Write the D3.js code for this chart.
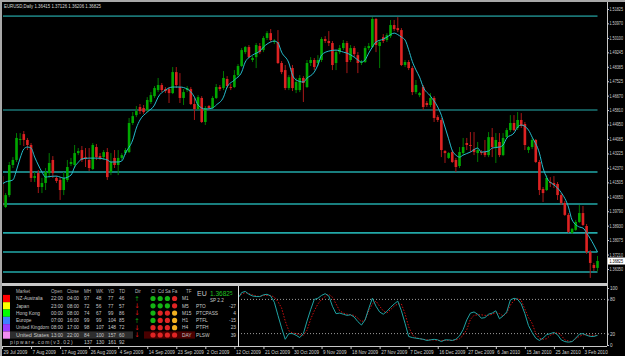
<!DOCTYPE html>
<html>
<head>
<meta charset="utf-8">
<script src="https://cdn.jsdelivr.net/npm/d3@7"></script>
<style>
body { margin: 0; background: #000; }
svg { display: block; font-family: "Liberation Sans", Arial, sans-serif; }
</style>
</head>
<body>
<div id="chart"></div>
<script>
/**
 * Chart values
 */
var title = "EURUSD,Daily  1.36415 1.37126 1.36206 1.36825";

// daily bars, [open, high, low, close], first bar is 29 Jul 2009
var ohlc = [
 [1.4188,1.4200,1.3998,1.4010],[1.4004,1.4087,1.3998,1.4075],[1.4075,1.4272,1.4063,1.4254],[1.4254,1.4301,1.4236,1.4284],
 [1.4284,1.4444,1.4272,1.4415],[1.4403,1.4444,1.4373,1.4409],[1.4438,1.4456,1.4367,1.4403],[1.4403,1.4415,1.4343,1.4373],
 [1.4373,1.4385,1.4153,1.4177],[1.4177,1.4212,1.4153,1.4188],[1.4206,1.4224,1.4087,1.4123],[1.4123,1.4177,1.4087,1.4147],
 [1.4147,1.4236,1.4105,1.4212],[1.4206,1.4325,1.4177,1.4266],[1.4284,1.4307,1.4177,1.4206],[1.4177,1.4188,1.4147,1.4159],
 [1.4165,1.4182,1.4046,1.4105],[1.4105,1.4212,1.4075,1.4177],[1.4165,1.4284,1.4153,1.4242],[1.4260,1.4296,1.4248,1.4272],
 [1.4254,1.4373,1.4236,1.4325],[1.4325,1.4355,1.4313,1.4337],[1.4343,1.4367,1.4272,1.4284],[1.4301,1.4355,1.4242,1.4290],
 [1.4284,1.4355,1.4218,1.4236],[1.4230,1.4385,1.4224,1.4373],[1.4361,1.4379,1.4284,1.4301],[1.4307,1.4325,1.4284,1.4296],
 [1.4301,1.4343,1.4284,1.4331],[1.4331,1.4355,1.4165,1.4182],[1.4212,1.4325,1.4194,1.4272],[1.4296,1.4343,1.4236,1.4254],
 [1.4254,1.4343,1.4194,1.4296],[1.4296,1.4325,1.4284,1.4313],[1.4325,1.4355,1.4313,1.4343],[1.4331,1.4534,1.4325,1.4504],
 [1.4504,1.4569,1.4492,1.4545],[1.4551,1.4605,1.4539,1.4575],[1.4599,1.4617,1.4557,1.4575],[1.4593,1.4611,1.4557,1.4569],
 [1.4581,1.4658,1.4569,1.4641],[1.4629,1.4688,1.4617,1.4670],[1.4664,1.4724,1.4653,1.4712],[1.4700,1.4772,1.4688,1.4730],
 [1.4730,1.4742,1.4688,1.4700],[1.4706,1.4718,1.4682,1.4694],[1.4706,1.4718,1.4623,1.4682],[1.4682,1.4837,1.4676,1.4807],
 [1.4807,1.4837,1.4712,1.4730],[1.4718,1.4801,1.4623,1.4653],[1.4653,1.4706,1.4611,1.4688],[1.4700,1.4724,1.4688,1.4712],
 [1.4706,1.4718,1.4611,1.4617],[1.4617,1.4653,1.4522,1.4587],[1.4587,1.4670,1.4581,1.4658],[1.4653,1.4664,1.4504,1.4510],
 [1.4510,1.4605,1.4492,1.4593],[1.4605,1.4611,1.4581,1.4593],[1.4593,1.4664,1.4587,1.4653],[1.4653,1.4736,1.4647,1.4718],
 [1.4718,1.4730,1.4694,1.4706],[1.4712,1.4813,1.4700,1.4772],[1.4766,1.4783,1.4712,1.4724],[1.4718,1.4736,1.4700,1.4712],
 [1.4718,1.4819,1.4712,1.4789],[1.4789,1.4855,1.4777,1.4843],[1.4843,1.4950,1.4837,1.4938],[1.4926,1.4962,1.4914,1.4956],
 [1.4956,1.4968,1.4891,1.4896],[1.4879,1.4902,1.4867,1.4891],[1.4896,1.4980,1.4831,1.4968],[1.4962,1.4980,1.4914,1.4926],
 [1.4938,1.5021,1.4926,1.5010],[1.5010,1.5051,1.4998,1.5039],[1.5039,1.5063,1.4986,1.4998],[1.4986,1.5004,1.4974,1.4992],
 [1.4986,1.5057,1.4855,1.4861],[1.4861,1.4873,1.4795,1.4807],[1.4819,1.4849,1.4700,1.4712],[1.4712,1.4789,1.4700,1.4777],
 [1.4831,1.4849,1.4694,1.4712],[1.4700,1.4772,1.4682,1.4748],[1.4700,1.4789,1.4688,1.4772],[1.4772,1.4783,1.4629,1.4742],
 [1.4718,1.4879,1.4712,1.4861],[1.4861,1.4896,1.4843,1.4879],[1.4879,1.4891,1.4819,1.4837],[1.4861,1.4908,1.4843,1.4879],
 [1.4879,1.5015,1.4867,1.5004],[1.5004,1.5021,1.4980,1.4992],[1.4992,1.5051,1.4962,1.4980],[1.4980,1.4992,1.4819,1.4849],
 [1.4861,1.4938,1.4819,1.4926],[1.4926,1.4968,1.4914,1.4950],[1.4950,1.4998,1.4938,1.4980],[1.4980,1.4992,1.4801,1.4867],
 [1.4879,1.4968,1.4867,1.4950],[1.4950,1.4962,1.4896,1.4914],[1.4908,1.4926,1.4801,1.4861],[1.4861,1.4879,1.4849,1.4867],
 [1.4867,1.4962,1.4861,1.4950],[1.4950,1.4980,1.4938,1.4962],[1.4956,1.5134,1.4950,1.5123],[1.5123,1.5129,1.4926,1.4968],
 [1.4962,1.4998,1.4831,1.4986],[1.5015,1.5033,1.4980,1.4992],[1.4998,1.5039,1.4986,1.5027],[1.5021,1.5117,1.5010,1.5087],
 [1.5087,1.5117,1.5051,1.5063],[1.5069,1.5134,1.5045,1.5057],[1.5057,1.5069,1.4843,1.4849],[1.4849,1.4879,1.4837,1.4867],
 [1.4867,1.4879,1.4819,1.4831],[1.4831,1.4843,1.4670,1.4688],[1.4688,1.4760,1.4676,1.4730],[1.4670,1.4688,1.4658,1.4682],
 [1.4718,1.4730,1.4581,1.4599],[1.4623,1.4635,1.4599,1.4611],[1.4611,1.4682,1.4599,1.4653],[1.4653,1.4664,1.4510,1.4534],
 [1.4539,1.4551,1.4510,1.4522],[1.4522,1.4534,1.4301,1.4343],[1.4337,1.4343,1.4266,1.4325],[1.4296,1.4331,1.4290,1.4325],
 [1.4331,1.4343,1.4266,1.4272],[1.4284,1.4296,1.4212,1.4242],[1.4248,1.4361,1.4236,1.4331],[1.4325,1.4415,1.4313,1.4361],
 [1.4385,1.4415,1.4343,1.4373],[1.4373,1.4450,1.4331,1.4367],[1.4349,1.4450,1.4313,1.4331],[1.4325,1.4391,1.4272,1.4343],
 [1.4331,1.4343,1.4313,1.4325],[1.4331,1.4403,1.4301,1.4313],[1.4313,1.4450,1.4301,1.4420],[1.4420,1.4474,1.4301,1.4361],
 [1.4361,1.4444,1.4266,1.4403],[1.4391,1.4444,1.4301,1.4313],[1.4313,1.4444,1.4307,1.4415],[1.4420,1.4474,1.4409,1.4462],
 [1.4462,1.4551,1.4450,1.4504],[1.4504,1.4551,1.4456,1.4462],[1.4474,1.4569,1.4462,1.4522],[1.4522,1.4563,1.4474,1.4486],
 [1.4498,1.4510,1.4343,1.4373],[1.4343,1.4367,1.4325,1.4361],[1.4361,1.4415,1.4349,1.4403],[1.4403,1.4409,1.4266,1.4272],
 [1.4272,1.4284,1.4075,1.4105],[1.4111,1.4123,1.4034,1.4087],[1.4105,1.4194,1.4099,1.4177],[1.4153,1.4182,1.4123,1.4147],
 [1.4147,1.4188,1.4117,1.4135],[1.4141,1.4153,1.4046,1.4075],[1.4075,1.4087,1.4016,1.4028],[1.4028,1.4040,1.3951,1.3957],
 [1.3957,1.3968,1.3850,1.3856],[1.3850,1.3879,1.3844,1.3874],[1.3868,1.3927,1.3862,1.3915],[1.3915,1.4016,1.3909,1.3968],
 [1.3968,1.4010,1.3891,1.3897],[1.3891,1.3903,1.3725,1.3736],[1.3736,1.3748,1.3582,1.3671],[1.3659,1.3671,1.3623,1.3641],
 [1.36415,1.37126,1.36206,1.36825]
];

// cyan moving average, read at these bars
var maBars = [0,1,3,4,5,6,7,8,9,10,11,12,13,15,16,17,19,20,21,22,24,26,28,29,30,32,33,34,36,37,38,40,42,43,45,47,49,51,53,54,56,58,59,61,62,64,66,67,69,71,72,74,75,76,77,79,80,81,83,84,86,87,88,90,92,94,95,97,98,99,100,101,102,103,105,106,108,109,110,111,112,113,114,115,116,118,120,121,122,123,124,125,126,127,129,131,132,134,135,137,138,139,141,142,143,145,146,148,149,150,152,153,154,156,157,159,160,161,163,164];
var maValues = [1.4141,1.4153,1.4165,1.4224,1.4295,1.4349,1.4361,1.4355,1.4301,1.4254,1.4212,1.4182,1.4185,1.4188,1.4182,1.4176,1.4194,1.4242,1.4270,1.4290,1.4295,1.4295,1.4290,1.4284,1.4272,1.4272,1.4278,1.4325,1.4403,1.4474,1.4522,1.4569,1.4611,1.4658,1.4700,1.4718,1.4718,1.4706,1.4658,1.4611,1.4587,1.4593,1.4611,1.4658,1.4718,1.4760,1.4807,1.4867,1.4908,1.4932,1.4956,1.4986,1.4992,1.4980,1.4926,1.4861,1.4789,1.4760,1.4748,1.4771,1.4807,1.4849,1.4908,1.4932,1.4938,1.4926,1.4920,1.4896,1.4879,1.4867,1.4880,1.4920,1.4956,1.4986,1.5003,1.5015,1.5039,1.5030,1.5015,1.4998,1.4940,1.4870,1.4820,1.4777,1.4718,1.4664,1.4599,1.4550,1.4480,1.4410,1.4340,1.4313,1.4301,1.4313,1.4331,1.4355,1.4331,1.4337,1.4355,1.4361,1.4373,1.4414,1.4444,1.4480,1.4492,1.4462,1.4420,1.4325,1.4236,1.4180,1.4135,1.4117,1.4090,1.4004,1.3927,1.3885,1.3879,1.3850,1.3778,1.3736];

// horizontal levels drawn on the chart
var levelPrices = [1.5140, 1.4581, 1.4212, 1.4022, 1.3850, 1.3736, 1.3617];

// right axis labels
var priceTickLabels = ["1.51825","1.50970","1.50100","1.49245","1.48385","1.47525","1.46670","1.45810","1.44950","1.44085","1.43225","1.42370","1.41505","1.40650","1.39790","1.38930","1.38075","1.37210","1.36350"];
var lastPrice = "1.36825";

// bottom axis, one label every 8 bars
var dateLabels = ["29 Jul 2009","7 Aug 2009","17 Aug 2009","26 Aug 2009","4 Sep 2009","14 Sep 2009","23 Sep 2009","2 Oct 2009","12 Oct 2009","21 Oct 2009","30 Oct 2009","9 Nov 2009","18 Nov 2009","27 Nov 2009","7 Dec 2009","16 Dec 2009","27 Dec 2009","6 Jan 2010","15 Jan 2010","25 Jan 2010","3 Feb 2010"];

// oscillator window, bars 65..164
var oscStart = 65;
var oscMain = [82,92,94,89,86,85,85,88,89,86,75,52,30,10,20,20,17,13,20,42,62,80,82,87,90,86,68,55,56,54,52,53,49,41,35,44,64,82,68,58,54,59,66,72,77,60,38,15,13,12,11,10,8,9,10,9,6,9,9,8,10,16,27,44,56,58,54,47,48,54,56,60,46,51,58,79,82,80,72,55,34,22,12,8,12,18,20,22,18,9,6,5,6,12,19,20,17,15,15,17];
var oscSignal = [85,89,92,90,88,86,85,87,87,87,84,76,65,42,25,21,20,18,17,26,45,60,72,80,85,89,84,72,60,56,54,53,52,47,41,44,60,72,77,68,60,56,62,68,72,72,55,32,18,13,11,10,9,9,9,8,8,8,8,8,9,11,17,27,45,52,53,53,52,52,54,57,55,51,56,70,78,82,78,63,48,38,20,12,10,11,17,20,22,17,9,7,6,11,15,18,18,17,17,17];
var oscLevels = [80, 20];
var oscTickLabels = ["100","80","20","0"];

// session table
var markets = ["NZ-Australia","Japan","Hong Kong","Europe","United Kingdom","United States"];
var marketColors = ["#ff0000","#ffff00","#00ff00","#3f7fff","#9a3cff","#f08cf0"];
var opens = ["22:00","23:00","00:00","07:00","08:00","13:00"];
var closes = ["04:00","08:00","08:00","16:00","17:00","22:00"];
var mh = [97,72,74,99,98,84];
var wk = [48,56,67,99,107,100];
var yd = [77,77,99,104,148,157];
var td = [46,57,86,85,72,60];
var totals = [137,130,161,92];
var dirs = ["up","down","down","up","down","down"];
var dots = [["g","g","g","r"],["g","g","g","r"],["g","r","r","o"],["g","r","r","o"],["r","r","r","o"],["r","r","r","r"]];
var timeframes = ["M1","M5","M15","H1","H4","DAY"];
var stats = [["PTO","-27"],["PTCPASS","4"],["PTFL","-15"],["PTFH","23"],["PLSW","39"]];

/**
 * Layout
 */
var W = 625, H = 356;
var plotRight = 607;

var svg = d3.select("#chart").append("svg")
	.attr("width", W)
	.attr("height", H);

svg.append("rect").attr("width", W).attr("height", H).attr("fill", "#000");

var x = d3.scaleLinear().domain([0, ohlc.length - 1]).range([2, 597.5]);
var y = d3.scaleLinear().domain([1.3635, 1.51825]).range([269, 9]);
var yOsc = d3.scaleLinear().domain([0, 100]).range([345, 288]);

// clip for main window
svg.append("clipPath").attr("id", "mainClip")
	.append("rect").attr("x", 3).attr("y", 3).attr("width", plotRight - 3).attr("height", 280);

var main = svg.append("g").attr("clip-path", "url(#mainClip)");

// horizontal levels
main.selectAll("line.level").data(levelPrices).enter().append("line")
	.attr("class", "level")
	.attr("x1", x(0)).attr("x2", x(ohlc.length - 1))
	.attr("y1", function(d) { return y(d); })
	.attr("y2", function(d) { return y(d); })
	.attr("stroke", function(d, i) { return i < 2 ? "#1a7474" : "#22a8a8"; })
	.attr("stroke-width", 1.6);

// candles
var bars = main.selectAll("g.bar").data(ohlc).enter().append("g").attr("class", "bar");
bars.append("line")
	.attr("x1", function(d, i) { return x(i); })
	.attr("x2", function(d, i) { return x(i); })
	.attr("y1", function(d) { return y(d[1]); })
	.attr("y2", function(d) { return y(d[2]); })
	.attr("stroke", function(d) { return d[3] >= d[0] ? "#007a00" : "#a81818"; })
	.attr("stroke-width", 1);
bars.append("rect")
	.attr("x", function(d, i) { return x(i) - 1.3; })
	.attr("width", 2.6)
	.attr("y", function(d) { return y(Math.max(d[0], d[3])); })
	.attr("height", function(d) { return Math.max(1, Math.abs(y(d[0]) - y(d[3]))); })
	.attr("fill", function(d) { return d[3] >= d[0] ? "#00a800" : "#dd2222"; });

// moving average
var maLine = d3.line()
	.curve(d3.curveMonotoneX)
	.x(function(d) { return x(d[0]); })
	.y(function(d) { return y(d[1]); });
main.append("path")
	.datum(maBars.map(function(b, i) { return [b, maValues[i]]; }))
	.attr("d", maLine)
	.attr("fill", "none")
	.attr("stroke", "#25bccc")
	.attr("stroke-width", 1);

// title
svg.append("text")
	.attr("x", 4).attr("y", 8)
	.attr("font-size", 5).attr("fill", "#d8d8d8")
	.attr("textLength", 97).attr("lengthAdjust", "spacingAndGlyphs")
	.text(title);

// frame
svg.append("rect").attr("x", 0).attr("y", 0).attr("width", W).attr("height", 2).attr("fill", "#a8a8a8");
svg.append("rect").attr("x", 0).attr("y", 0).attr("width", 2).attr("height", H).attr("fill", "#a8a8a8");
svg.append("rect").attr("x", 2).attr("y", 283).attr("width", plotRight - 2).attr("height", 3).attr("fill", "#c8c8c8");

// right price axis
var priceAxis = d3.axisRight(y)
	.tickValues(priceTickLabels.map(Number))
	.tickFormat(function(d, i) { return priceTickLabels[i]; })
	.tickSize(2).tickPadding(0.5);
var pa = svg.append("g").attr("transform", "translate(" + plotRight + ",0)").call(priceAxis);
pa.select(".domain").remove();
pa.selectAll("line").attr("stroke", "#c8c8c8");
pa.selectAll("text").attr("fill", "#d0d0d0").attr("font-size", 4.6)
	.attr("textLength", 13.5).attr("lengthAdjust", "spacingAndGlyphs");
svg.append("line").attr("x1", plotRight + 0.5).attr("x2", plotRight + 0.5).attr("y1", 2).attr("y2", 346)
	.attr("stroke", "#c8c8c8");

// last price box
var lp = svg.append("g").attr("transform", "translate(" + (plotRight + 1) + "," + y(+lastPrice) + ")");
lp.append("rect").attr("x", 0).attr("y", -3.5).attr("width", 17).attr("height", 7).attr("fill", "#ffffff");
lp.append("text").attr("x", 1.5).attr("y", 1.8).attr("font-size", 4.6).attr("fill", "#000")
	.attr("textLength", 13.5).attr("lengthAdjust", "spacingAndGlyphs").text(lastPrice);

/**
 * Oscillator window
 */
var osc = svg.append("g");
osc.selectAll("line.olevel").data(oscLevels).enter().append("line")
	.attr("x1", 238).attr("x2", plotRight)
	.attr("y1", function(d) { return yOsc(d); })
	.attr("y2", function(d) { return yOsc(d); })
	.attr("stroke", "#9a9a9a").attr("stroke-dasharray", "1,2");

var oscLine = d3.line()
	.x(function(d, i) { return x(oscStart + i); })
	.y(function(d) { return yOsc(d); });
osc.append("path").datum(oscSignal).attr("d", oscLine)
	.attr("fill", "none").attr("stroke", "#d01010").attr("stroke-dasharray", "1.5,1.5");
osc.append("path").datum(oscMain).attr("d", oscLine)
	.attr("fill", "none").attr("stroke", "#1fa3a3").attr("stroke-width", 1);

var oa = svg.append("g").attr("transform", "translate(" + plotRight + ",0)")
	.call(d3.axisRight(yOsc).tickValues(oscTickLabels.map(Number)).tickSize(2).tickPadding(1));
oa.select(".domain").remove();
oa.selectAll("line").attr("stroke", "#c8c8c8");
oa.selectAll("text").attr("fill", "#d0d0d0").attr("font-size", 4.6);

/**
 * Date axis
 */
var dateIdx = dateLabels.map(function(d, i) { return i * 8; });
var da = svg.append("g").attr("transform", "translate(0,346)")
	.call(d3.axisBottom(x).tickValues(dateIdx)
		.tickFormat(function(d, i) { return dateLabels[i]; })
		.tickSize(3).tickPadding(1.5));
da.select(".domain").attr("stroke", "#c8c8c8").attr("d", "M2,0.5H" + plotRight);
da.selectAll("line").attr("stroke", "#c8c8c8");
da.selectAll("text").attr("fill", "#d0d0d0").attr("font-size", 4.6)
	.attr("text-anchor", "start").attr("dx", 1);

/**
 * Session table box
 */
var tb = svg.append("g");
tb.append("rect").attr("x", 2).attr("y", 286).attr("width", 236).attr("height", 60).attr("fill", "#000");
tb.append("line").attr("x1", 238.5).attr("x2", 238.5).attr("y1", 286).attr("y2", 347).attr("stroke", "#e0e0e0");

var rowY = d3.scaleLinear().domain([0, 1]).range([298.5, 305.8]);
var colX = { market: 16, open: 51, close: 67, mh: 84, wk: 96, yd: 108, td: 119, dir: 137, dot: 153, tf: 182 };

// highlighted rows
tb.append("rect").attr("x", 10).attr("y", rowY(5) - 3.6).attr("width", 123).attr("height", 7.2).attr("fill", "#2e2e2e");
tb.append("rect").attr("x", 144).attr("y", rowY(5) - 3.6).attr("width", 51).attr("height", 7.2).attr("fill", "#4a0000");

var headers = [["Market", colX.market],["Open", colX.open],["Close", colX.close],["MH", colX.mh],["WK", colX.wk],["YD", colX.yd],["TD", colX.td],["Dir", colX.dir - 2],["Cl", 151],["Cd", 158],["Sa", 165],["Fa", 172],["TF", colX.tf + 4]];
tb.selectAll("text.hdr").data(headers).enter().append("text")
	.attr("x", function(d) { return d[1]; }).attr("y", 292.5)
	.attr("font-size", 4.6).attr("fill", "#b8b8b8")
	.text(function(d) { return d[0]; });

tb.selectAll("rect.sw").data(marketColors).enter().append("rect")
	.attr("x", 3).attr("width", 7)
	.attr("y", function(d, i) { return rowY(i) - 3.6; })
	.attr("height", 7.3)
	.attr("fill", function(d) { return d; });

var rows = tb.selectAll("g.row").data(markets).enter().append("g")
	.attr("transform", function(d, i) { return "translate(0," + rowY(i) + ")"; });
function cell(sel, xPos, fn, color) {
	sel.append("text").attr("x", xPos).attr("y", 1.7)
		.attr("font-size", 4.8).attr("fill", color)
		.text(fn);
}
cell(rows, colX.market, function(d) { return d; }, "#c8c8c8");
rows.select("text").attr("textLength", function(d) { return d.length > 12 ? 33 : null; })
	.attr("lengthAdjust", "spacingAndGlyphs");
cell(rows, colX.open, function(d, i) { return opens[i]; }, "#c8c8c8");
cell(rows, colX.close, function(d, i) { return closes[i]; }, "#c8c8c8");
cell(rows, colX.mh, function(d, i) { return mh[i]; }, "#c8c8c8");
cell(rows, colX.wk, function(d, i) { return wk[i]; }, "#c8c8c8");
cell(rows, colX.yd, function(d, i) { return yd[i]; }, "#c8c8c8");
cell(rows, colX.td, function(d, i) { return td[i]; }, "#c8c8c8");
rows.append("text").attr("x", colX.dir).attr("y", 2.2)
	.attr("font-family", "DejaVu Sans").attr("font-size", 6.5).attr("text-anchor", "middle")
	.attr("fill", function(d, i) { return dirs[i] == "up" ? "#12a012" : "#e01818"; })
	.text(function(d, i) { return dirs[i] == "up" ? "\u2191" : "\u2193"; });
rows.each(function(d, i) {
	d3.select(this).selectAll("circle").data(dots[i]).enter().append("circle")
		.attr("cx", function(c, j) { return colX.dot + j * 7.2; })
		.attr("cy", 0).attr("r", 2.6)
		.attr("fill", function(c) { return c == "g" ? "#14b414" : (c == "r" ? "#e02424" : "#f0b020"); });
});
cell(rows, colX.tf, function(d, i) { return timeframes[i]; }, "#c8c8c8");

tb.append("text").attr("x", 10).attr("y", 343.5).attr("font-size", 5).attr("fill", "#bdbdbd")
	.attr("letter-spacing", 1.1).text("pipware.com(v3.02)");
tb.selectAll("text.tot").data(totals).enter().append("text")
	.attr("x", function(d, i) { return [colX.mh, colX.wk, colX.yd, colX.td][i]; })
	.attr("y", 343.5).attr("font-size", 5).attr("fill", "#c8c8c8")
	.text(function(d) { return d; });

// quote panel
tb.append("text").attr("x", 197).attr("y", 296).attr("font-size", 7).attr("fill", "#c8c8c8").text("EU");
var q = tb.append("text").attr("x", 210).attr("y", 296).attr("font-size", 6.5).attr("fill", "#20c020");
q.append("tspan").text(lastPrice.slice(0, 6));
q.append("tspan").attr("font-size", 4.5).attr("dy", -1.5).text(lastPrice.slice(6));
tb.append("text").attr("x", 210).attr("y", 302).attr("font-size", 4.6).attr("fill", "#c8c8c8").text("SP  2.2");
tb.selectAll("text.st").data(stats).enter().append("g")
	.each(function(d, i) {
		var g = d3.select(this);
		g.append("text").attr("x", 196).attr("y", rowY(i + 1) + 1.7).attr("font-size", 4.8).attr("fill", "#c8c8c8").text(d[0]);
		g.append("text").attr("x", 236).attr("y", rowY(i + 1) + 1.7).attr("font-size", 4.8).attr("fill", "#c8c8c8")
			.attr("text-anchor", "end").text(d[1]);
	});
</script>
</body>
</html>
